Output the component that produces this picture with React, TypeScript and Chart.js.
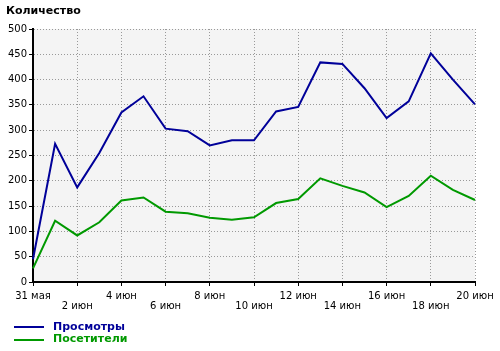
import React, { useEffect, useRef } from "react";
import { Chart, registerables } from "chart.js";

Chart.register(...registerables);

const categories = [
  "31 мая", "1 июн", "2 июн", "3 июн", "4 июн", "5 июн", "6 июн", "7 июн",
  "8 июн", "9 июн", "10 июн", "11 июн", "12 июн", "13 июн", "14 июн", "15 июн",
  "16 июн", "17 июн", "18 июн", "19 июн", "20 июн",
];
const views = [45, 273, 187, 255, 335, 367, 303, 298, 270, 280, 280, 337, 346, 434, 431, 383, 324, 357, 452, 400, 351];
const visitors = [27, 121, 92, 118, 161, 167, 139, 136, 127, 123, 128, 156, 164, 205, 190, 177, 148, 170, 210, 182, 162];
const seriesNames = ["Просмотры", "Посетители"];
const seriesColors = ["#000099", "#009900"];
const yTitle = "Количество";

const FONT = "'DejaVu Sans', Verdana, sans-serif";

const bgPlugin = {
  id: "plotBg",
  beforeDraw(chart: any) {
    const { ctx, chartArea } = chart;
    if (!chartArea) return;
    ctx.save();
    ctx.fillStyle = "#f4f4f4";
    ctx.fillRect(chartArea.left, chartArea.top, chartArea.right - chartArea.left, chartArea.bottom - chartArea.top);
    ctx.restore();
  },
};

const legendPlugin = {
  id: "customLegend",
  afterDraw(chart: any) {
    const { ctx } = chart;
    ctx.save();
    chart.data.datasets.forEach((ds: any, i: number) => {
      const y = 327 + i * 12.5;
      ctx.strokeStyle = ds.borderColor;
      ctx.lineWidth = 2;
      ctx.beginPath();
      ctx.moveTo(14, Math.round(y));
      ctx.lineTo(44, Math.round(y));
      ctx.stroke();
      ctx.fillStyle = ds.borderColor;
      ctx.font = `bold 11px ${FONT}`;
      ctx.textBaseline = "middle";
      ctx.textAlign = "left";
      ctx.fillText(ds.label, 53, y);
    });
    ctx.restore();
  },
};

export default function App() {
  const ref = useRef<HTMLCanvasElement>(null);
  useEffect(() => {
    if (!ref.current) return;
    const chart = new Chart(ref.current, {
      type: "line",
      data: {
        labels: categories,
        datasets: [
          { label: seriesNames[0], data: views, borderColor: seriesColors[0], borderWidth: 2, pointRadius: 0, tension: 0, fill: false },
          { label: seriesNames[1], data: visitors, borderColor: seriesColors[1], borderWidth: 2, pointRadius: 0, tension: 0, fill: false },
        ],
      },
      options: {
        responsive: false,
        animation: false,
        layout: { padding: { left: 6, right: 25, top: 0, bottom: 0 } },
        plugins: {
          legend: { display: false },
          tooltip: { enabled: false },
          title: {
            display: true,
            text: yTitle,
            align: "start",
            color: "#000",
            font: { family: FONT, size: 11, weight: "bold", lineHeight: 1.2 },
            padding: { top: 4.5, bottom: 11.3 },
          },
        },
        scales: {
          x: {
            type: "category",
            offset: false,
            afterFit(scale: any) { scale.height = 69; },
            border: { display: true, color: "#000", width: 2, dash: [1, 2] },
            grid: {
              drawOnChartArea: true,
              color: (c: any) => (c.index % 2 === 0 && c.index > 0 ? "#999999" : "rgba(0,0,0,0)"),
              tickColor: (c: any) => (c.index % 2 === 0 ? "#000" : "rgba(0,0,0,0)"),
              tickLength: 4,
              tickBorderDash: [],
              lineWidth: 1,
            },
            ticks: {
              autoSkip: false,
              maxRotation: 0,
              minRotation: 0,
              padding: 6,
              color: "#000",
              font: { family: FONT, size: 10, lineHeight: 0.97 },
              callback: (_v: any, i: number) => {
                if (i % 2 !== 0) return "";
                return i % 4 === 0 ? categories[i] : ["", categories[i]];
              },
            },
          },
          y: {
            min: 0,
            max: 500,
            afterFit(scale: any) { scale.width = 27; },
            border: { display: true, color: "#000", width: 2, dash: [1, 2] },
            grid: {
              color: (c: any) => (c.tick && c.tick.value > 0 ? "#999999" : "rgba(0,0,0,0)"),
              tickColor: "#000",
              tickLength: 4,
              tickBorderDash: [],
              lineWidth: 1,
            },
            ticks: {
              stepSize: 50,
              padding: 2,
              color: "#000",
              font: { family: FONT, size: 10 },
            },
          },
        },
      },
      plugins: [bgPlugin, legendPlugin],
    } as any);
    return () => chart.destroy();
  }, []);
  return (
    <div style={{ position: "fixed", left: 0, top: 0, width: 500, height: 351, background: "#fff" }}>
      <canvas ref={ref} width={500} height={351} style={{ width: 500, height: 351, display: "block" }} />
    </div>
  );
}
